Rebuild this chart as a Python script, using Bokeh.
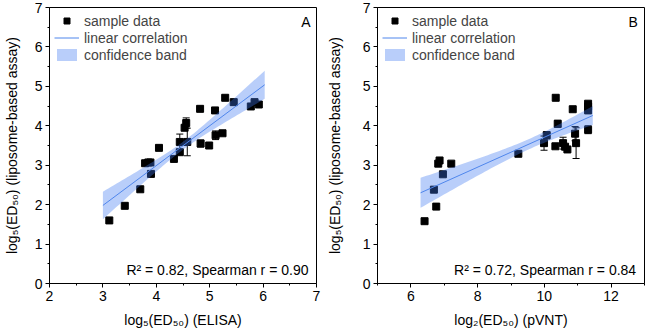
import numpy as np
from bokeh.plotting import figure
from bokeh.models import (FixedTicker, Label, Legend, LegendItem, Whisker,
                          ColumnDataSource, Range1d, TeeHead)
from bokeh.layouts import row
from bokeh.embed import file_html
from bokeh.resources import INLINE

# ---------------- data ----------------
a_x = [3.12, 3.41, 3.70, 3.90, 3.79, 3.85, 3.89, 4.05, 4.33, 4.44, 4.44, 4.58, 4.53,
       4.56, 4.83, 4.99, 5.11, 5.24, 4.82, 5.10, 5.29, 5.45, 5.77, 5.84, 5.92]
a_y = [1.60, 1.97, 2.39, 2.78, 3.05, 3.07, 3.07, 3.44, 3.16, 3.33, 3.59, 3.59, 3.95,
       4.07, 3.55, 3.50, 3.76, 3.81, 4.43, 4.39, 4.71, 4.60, 4.49, 4.60, 4.54]
a_err = [0, 0, 0, 0, 0, 0, 0, 0, 0, 0, 0.20, 0.35, 0,
         0.13, 0.09, 0, 0.11, 0, 0, 0.05, 0, 0, 0, 0, 0]

b_x = [6.41, 6.76, 6.69, 6.96, 6.82, 6.86, 7.21, 9.22, 9.99, 10.07, 10.33, 10.34, 10.40,
       10.56, 10.62, 10.69, 10.85, 10.92, 10.95, 11.31, 11.31, 11.31, 11.31]
b_y = [1.58, 1.95, 2.38, 2.77, 3.04, 3.12, 3.04, 3.29, 3.56, 3.76, 3.48, 4.71, 4.05,
       3.56, 3.47, 3.40, 4.42, 3.80, 3.56, 4.56, 4.49, 4.39, 3.90]
b_err = [0, 0, 0, 0, 0, 0, 0, 0, 0.18, 0.09, 0, 0, 0.09,
         0.15, 0, 0, 0, 0.18, 0.39, 0, 0, 0, 0.10]

# fitted line and confidence band
a_fit_range = [3.0, 6.03]
a_slope, a_intercept = 1.01, -1.05
a_band_min, a_band_curv = 0.10, 0.05   # half-width at centre, curvature
a_band_centre = 4.5

b_fit_range = [6.29, 11.45]
b_slope, b_intercept = 0.38, -0.09
b_band_min, b_band_curv = 0.13, 0.0118
b_band_centre = 9.59

x_ticks_a = [2, 3, 4, 5, 6, 7]
x_minor_a = [2.5, 3.5, 4.5, 5.5, 6.5]
x_ticks_b = [6, 8, 10, 12]
x_minor_b = [5, 7, 9, 11, 13]
y_ticks = [0, 1, 2, 3, 4, 5, 6, 7]
y_minor = [0.5, 1.5, 2.5, 3.5, 4.5, 5.5, 6.5]

stats_a = "R\u00b2 = 0.82, Spearman r = 0.90"
stats_b = "R\u00b2 = 0.72, Spearman r = 0.84"
y_title = "log\u2085(ED\u2085\u2080) (liposome-based assay)"
x_title_a = "log\u2085(ED\u2085\u2080) (ELISA)"
x_title_b = "log\u2082(ED\u2085\u2080) (pVNT)"

FONT = "Liberation Sans"
LINE_C = "#4f86ec"
BAND_C = "#3d78f0"


def panel(xs, ys, errs, xr, xt, xm, fit_range, slope, intercept, bmin, bcurv, bcen,
          xtitle, stats, stats_x, letter, letter_x, left, right, ylab_standoff):
    p = figure(width=323, height=333, x_range=Range1d(*xr), y_range=Range1d(0, 7),
               output_backend="svg", toolbar_location=None,
               min_border_left=left, min_border_right=right,
               min_border_top=7, min_border_bottom=50)
    p.xgrid.visible = False
    p.ygrid.visible = False
    p.outline_line_color = "black"
    p.outline_line_width = 1
    p.outline_line_alpha = 1
    p.xaxis.ticker = FixedTicker(ticks=xt, minor_ticks=xm)
    p.yaxis.ticker = FixedTicker(ticks=y_ticks, minor_ticks=y_minor)
    for ax in (p.xaxis[0], p.yaxis[0]):
        ax.major_tick_in = 0
        ax.major_tick_out = 4
        ax.minor_tick_in = 0
        ax.minor_tick_out = 2
        ax.axis_line_color = "black"
        ax.major_tick_line_color = "black"
        ax.minor_tick_line_color = "black"
        ax.major_label_text_font = FONT
        ax.major_label_text_font_size = "14px"
        ax.major_label_text_color = "black"
        ax.axis_label_text_font = FONT
        ax.axis_label_text_font_size = "14px"
        ax.axis_label_text_font_style = "normal"
        ax.axis_label_text_color = "black"
        ax.major_label_standoff = 3
    p.xaxis.axis_label = xtitle
    p.xaxis.axis_label_standoff = 8
    p.yaxis.axis_label = y_title
    p.yaxis.axis_label_standoff = ylab_standoff

    # error bars
    ex = [x for x, e in zip(xs, errs) if e > 0]
    ey = [y for y, e in zip(ys, errs) if e > 0]
    ee = [e for e in errs if e > 0]
    esrc = ColumnDataSource(dict(x=ex, lower=[y - e for y, e in zip(ey, ee)],
                                 upper=[y + e for y, e in zip(ey, ee)]))
    w = Whisker(base="x", lower="lower", upper="upper", source=esrc,
                line_color="black", line_width=1,
                upper_head=TeeHead(size=7, line_color="black", line_width=1),
                lower_head=TeeHead(size=7, line_color="black", line_width=1))
    p.add_layout(w)

    sc = p.scatter(xs, ys, marker="square", size=7, color="black")

    bx = np.linspace(fit_range[0], fit_range[1], 60)
    fy = intercept + slope * bx
    half = np.sqrt(bmin ** 2 + bcurv * (bx - bcen) ** 2)
    band = p.varea(x=bx, y1=fy - half, y2=fy + half, fill_color=BAND_C, fill_alpha=0.36)
    ln = p.line(fit_range, [intercept + slope * v for v in fit_range],
                line_color=LINE_C, line_width=1)

    leg = Legend(items=[LegendItem(label="sample data", renderers=[sc]),
                        LegendItem(label="linear correlation", renderers=[ln]),
                        LegendItem(label="confidence band", renderers=[band])],
                 location="top_left", border_line_alpha=0, background_fill_alpha=0,
                 label_text_font=FONT, label_text_font_size="14px",
                 glyph_width=25, glyph_height=15, label_height=17, spacing=0,
                 padding=5, margin=0, label_standoff=5)
    p.add_layout(leg)

    p.add_layout(Label(x=stats_x, y=0.33, text=stats, text_font=FONT,
                       text_font_size="14px", text_align="right",
                       text_baseline="middle", text_color="black"))
    p.add_layout(Label(x=letter_x, y=6.62, text=letter, text_font=FONT,
                       text_font_size="14px", text_align="center",
                       text_baseline="middle", text_color="black"))
    return p


pa = panel(a_x, a_y, a_err, (2, 7), x_ticks_a, x_minor_a, a_fit_range, a_slope,
           a_intercept, a_band_min, a_band_curv, a_band_centre, x_title_a, stats_a,
           6.85, "A", 6.80, 43, 7, 12)
pb = panel(b_x, b_y, b_err, (5, 13), x_ticks_b, x_minor_b, b_fit_range, b_slope,
           b_intercept, b_band_min, b_band_curv, b_band_centre, x_title_b, stats_b,
           12.75, "B", 12.66, 48, 2, 17)

layout = row(pa, pb)
open("out.html", "w").write(file_html(layout, INLINE))
